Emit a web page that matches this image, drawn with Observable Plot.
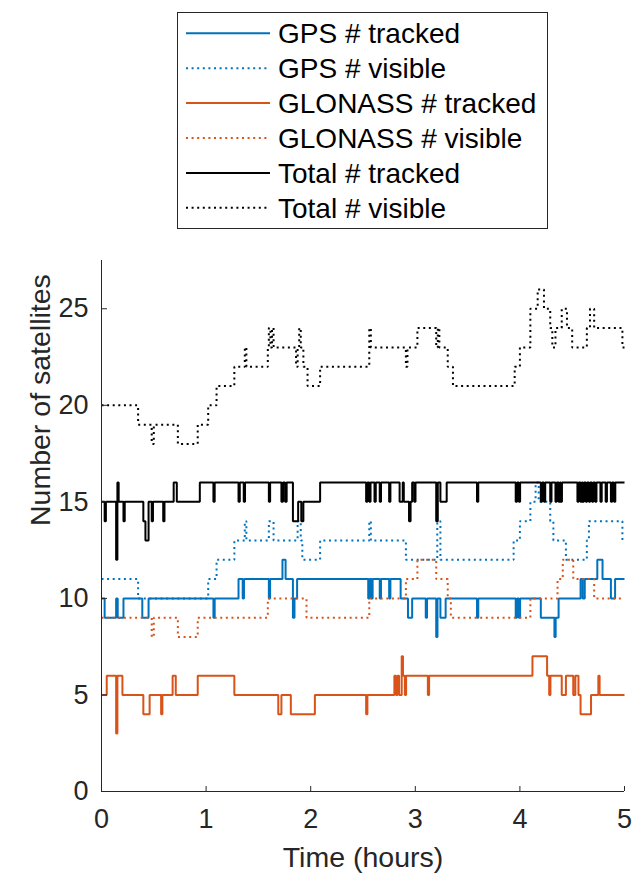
<!DOCTYPE html>
<html><head><meta charset="utf-8">
<script src="https://cdn.jsdelivr.net/npm/d3@7"></script>
<script src="https://cdn.jsdelivr.net/npm/@observablehq/plot@0.6"></script>
<style>
body{margin:0;background:#fff;}
#wrap{width:632px;font-family:"Liberation Sans",Arial,Helvetica,sans-serif;}
#legend svg,#chart svg{display:block;}
</style></head><body><div id="wrap"><div id="legend"></div><div id="chart"></div></div>
<script>
const xTicks = [0, 1, 2, 3, 4, 5];
const yTicks = [0, 5, 10, 15, 20, 25];
const seriesNames = ["GPS # tracked", "GPS # visible", "GLONASS # tracked", "GLONASS # visible", "Total # tracked", "Total # visible"];

// [time (hours), number of satellites] at each change (step-after)
const gpsTracked = [[0,10],[0.03,9],[0.14,10],[0.155,9],[0.21,10],[0.39,9],[0.45,10],[1.07,9],[1.082,10],[1.31,11],[1.35,10],[1.362,11],[1.60,10],[1.612,11],[1.73,12],[1.76,11],[1.83,9],[1.845,10],[1.87,11],[2.55,10],[2.562,11],[2.58,10],[2.592,11],[2.66,10],[2.672,11],[2.75,10],[2.762,11],[2.86,10],[2.93,9],[2.97,10],[3.10,9],[3.112,10],[3.20,8],[3.212,10],[3.24,9],[3.29,10],[3.59,9],[3.602,10],[3.96,9],[3.972,10],[3.99,9],[4.002,10],[4.20,9],[4.33,8],[4.342,9],[4.37,10],[4.58,11],[4.60,10],[4.62,11],[4.74,12],[4.79,11],[4.87,10],[4.91,11]];
const gpsVisible = [[0,11],[0.35,10],[1.02,11],[1.10,12],[1.27,13],[1.37,14],[1.385,13],[1.60,14],[1.645,13],[1.875,14],[1.905,13],[1.92,12],[2.09,13],[2.56,14],[2.575,13],[2.91,12],[3.21,14],[3.24,12],[3.94,13],[4.00,14],[4.10,15],[4.15,16],[4.18,15],[4.29,14],[4.32,13],[4.44,12],[4.64,13],[4.66,14],[4.98,13]];
const glonassTracked = [[0,5],[0.05,6],[0.14,3],[0.152,6],[0.20,5],[0.40,4],[0.46,5],[0.57,4],[0.582,5],[0.68,6],[0.71,5],[0.92,6],[1.27,5],[1.69,4],[1.72,5],[1.81,4],[2.04,5],[2.53,4],[2.542,5],[2.80,6],[2.815,5],[2.83,6],[2.845,5],[2.87,7],[2.882,6],[2.90,5],[2.912,6],[3.12,5],[3.132,6],[4.12,7],[4.26,6],[4.28,5],[4.292,6],[4.40,5],[4.44,6],[4.51,5],[4.53,6],[4.56,5],[4.58,4],[4.68,5],[4.75,6],[4.762,5]];
const glonassVisible = [[0,9],[0.48,8],[0.50,9],[0.73,8],[0.92,9],[1.59,10],[1.96,9],[2.56,10],[2.91,11],[3.02,12],[3.20,11],[3.31,10],[3.34,9],[4.10,10],[4.36,11],[4.41,12],[4.51,11],[4.71,10]];
const totalTracked = [[0,15],[0.03,14],[0.042,15],[0.14,12],[0.152,16],[0.164,15],[0.21,14],[0.222,15],[0.40,14],[0.42,13],[0.45,15],[0.48,14],[0.492,15],[0.59,14],[0.602,15],[0.69,16],[0.72,15],[0.94,16],[1.07,15],[1.082,16],[1.31,15],[1.322,16],[1.36,15],[1.372,16],[1.60,15],[1.612,16],[1.72,15],[1.735,16],[1.755,15],[1.77,16],[1.83,14],[1.88,15],[1.91,14],[1.93,15],[2.09,16],[2.53,15],[2.542,16],[2.56,15],[2.572,16],[2.61,15],[2.622,16],[2.66,15],[2.672,16],[2.75,15],[2.762,16],[2.85,15],[2.88,16],[2.89,15],[2.94,14],[2.955,15],[2.97,16],[2.99,15],[3.002,16],[3.20,14],[3.215,16],[3.24,15],[3.30,16],[3.59,15],[3.602,16],[3.96,15],[3.972,16],[3.99,15],[4.002,16],[4.20,15],[4.212,16],[4.23,15],[4.242,16],[4.29,15],[4.302,16],[4.34,15],[4.352,16],[4.37,15],[4.382,16],[4.39,15],[4.402,16],[4.55,15],[4.562,16],[4.58,15],[4.592,16],[4.60,15],[4.612,16],[4.63,15],[4.642,16],[4.66,15],[4.672,16],[4.69,15],[4.702,16],[4.72,15],[4.732,16],[4.77,15],[4.782,16],[4.82,15],[4.832,16],[4.87,15],[4.882,16],[4.90,15],[4.912,16]];
const totalVisible = [[0,20],[0.35,19],[0.48,18],[0.50,19],[0.73,18],[0.92,19],[1.02,20],[1.10,21],[1.27,22],[1.37,23],[1.385,22],[1.59,23],[1.60,24],[1.615,23],[1.63,24],[1.645,23],[1.86,22],[1.875,23],[1.89,24],[1.905,23],[1.93,22],[1.97,21],[2.09,22],[2.56,24],[2.575,23],[2.91,22],[2.925,23],[3.02,24],[3.20,23],[3.215,24],[3.23,23],[3.31,22],[3.36,21],[3.95,22],[4.00,23],[4.10,25],[4.17,26],[4.23,25],[4.29,24],[4.31,23],[4.34,24],[4.40,25],[4.45,24],[4.50,23],[4.64,24],[4.67,25],[4.71,24],[4.98,23]];

const blue = "#0072BD", orange = "#D95319", black = "#000000";
const dotted = "2,3.6";
const series = [
  {name: seriesNames[0], data: gpsTracked, color: blue, dash: null},
  {name: seriesNames[1], data: gpsVisible, color: blue, dash: dotted},
  {name: seriesNames[2], data: glonassTracked, color: orange, dash: null},
  {name: seriesNames[3], data: glonassVisible, color: orange, dash: dotted},
  {name: seriesNames[4], data: totalTracked, color: black, dash: null},
  {name: seriesNames[5], data: totalVisible, color: black, dash: dotted}
];

// Legend (above the plot SVG)
const leg = d3.select("#legend").append("svg").attr("width", 632).attr("height", 240);
leg.append("rect").attr("x", 177.5).attr("y", 12.5).attr("width", 370).attr("height", 216)
  .attr("fill", "white").attr("stroke", "#262626").attr("stroke-width", 1);
series.forEach((s, i) => {
  const cy = 33.3 + i * 34.9;
  leg.append("line").attr("x1", 186).attr("x2", 270).attr("y1", cy).attr("y2", cy)
    .attr("stroke", s.color).attr("stroke-width", 2).attr("stroke-dasharray", s.dash);
  leg.append("text").attr("x", 278).attr("y", cy).attr("dy", "0.35em")
    .attr("font-size", 28).attr("fill", "#000")
    .attr("font-family", '"Liberation Sans",Arial,Helvetica,sans-serif').text(s.name);
});

const toSteps = pairs => {
  const d = pairs.map(([t, v]) => ({t, v}));
  d.push({t: 5, v: pairs[pairs.length - 1][1]});
  return d;
};

const lineMarks = series.map(s => Plot.line(toSteps(s.data), {
  x: "t", y: "v", curve: "step-after", stroke: s.color, strokeWidth: 2,
  strokeDasharray: s.dash, strokeLinecap: "butt", strokeLinejoin: "miter"
}));

const chart = Plot.plot({
  width: 632, height: 635,
  marginLeft: 101, marginRight: 8, marginTop: 20, marginBottom: 84,
  x: {domain: [0, 5]},
  y: {domain: [0, 27.5]},
  style: {fontFamily: '"Liberation Sans",Arial,Helvetica,sans-serif', color: "#262626", background: "white", overflow: "visible"},
  marks: [
    ...lineMarks,
    Plot.ruleX([0], {stroke: "#262626"}),
    Plot.ruleY([0], {stroke: "#262626"}),
    // inward tick marks
    Plot.axisX(xTicks, {tickSize: -5, fill: "none", label: null}),
    Plot.axisY(yTicks, {tickSize: -6, fill: "none", label: null}),
    // tick labels
    Plot.text(xTicks, {x: d => d, y: 0, dy: 28, text: d => String(d), fontSize: 27, fill: "#262626", lineAnchor: "middle", textAnchor: "middle"}),
    Plot.axisY(yTicks, {tickSize: 0, tickPadding: 13, stroke: "none", fontSize: 27, label: null}),
    Plot.text(["Time (hours)"], {frameAnchor: "bottom", dy: 75, fontSize: 28.5, fill: "#262626"}),
    Plot.text(["Number of satellites"], {frameAnchor: "left", dx: -61, rotate: -90, fontSize: 28.5, fill: "#262626"})
  ]
});
document.getElementById("chart").appendChild(chart);
</script>
</body></html>
